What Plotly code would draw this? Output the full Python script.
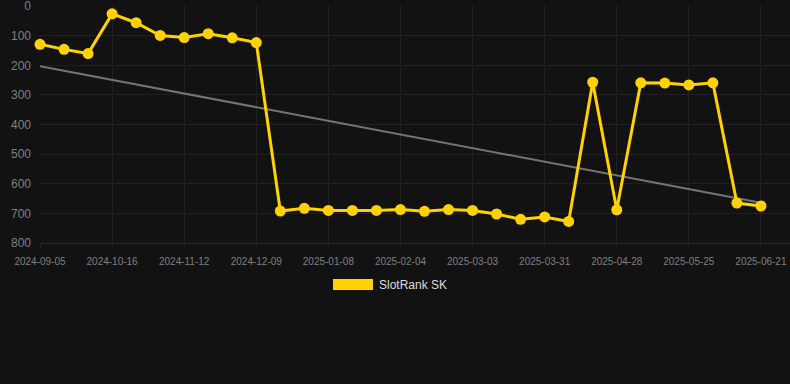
import numpy as np
import plotly.graph_objects as go

dates = ["2024-09-05", "2024-09-19", "2024-10-02", "2024-10-16", "2024-10-25", "2024-11-03",
         "2024-11-12", "2024-11-21", "2024-11-30", "2024-12-09", "2024-12-19", "2024-12-29",
         "2025-01-08", "2025-01-17", "2025-01-26", "2025-02-04", "2025-02-13", "2025-02-22",
         "2025-03-03", "2025-03-12", "2025-03-21", "2025-03-31", "2025-04-09", "2025-04-18",
         "2025-04-28", "2025-05-07", "2025-05-16", "2025-05-25", "2025-06-03", "2025-06-12",
         "2025-06-21"]
rank = [129, 146, 160, 26, 56, 99, 106, 93, 107, 123,
        692, 683, 690, 690, 690, 687, 693, 687, 690, 702,
        720, 712, 727, 257, 688, 259, 260, 266, 259, 665, 675]
y_ticks = [0, 100, 200, 300, 400, 500, 600, 700, 800]
series_name = "SlotRank SK"

idx = np.arange(len(rank))
slope, intercept = np.polyfit(idx, rank, 1)
trend = slope * idx + intercept

fig = go.Figure()
fig.add_trace(go.Scatter(x=dates, y=trend, mode="lines",
                         line=dict(color="rgba(150,150,150,0.75)", width=2),
                         hoverinfo="skip", showlegend=False))
fig.add_trace(go.Scatter(x=dates, y=rank, mode="lines+markers", name=series_name,
                         line=dict(color="#FFD200", width=3),
                         marker=dict(color="#FFD200", size=11),
                         cliponaxis=False, showlegend=False))

fig.update_layout(
    width=790, height=384,
    margin=dict(l=40, r=0, t=6, b=141),
    paper_bgcolor="#121212", plot_bgcolor="#121212",
    font=dict(family="Liberation Sans, Arial, sans-serif", color="#808080"),
    showlegend=False,
    xaxis=dict(type="category", range=[0, 31.21], tickmode="array",
               tickvals=dates[::3], ticktext=dates[::3],
               tickfont=dict(size=10, color="#808080"),
               showgrid=True, gridcolor="#202020", gridwidth=1,
               zeroline=False, showline=True, linecolor="#2a2a2a", linewidth=1,
               ticks="outside", ticklen=4, tickcolor="#202020",
               ticklabelstandoff=5, ticklabeloverflow="allow"),
    yaxis=dict(range=[800, -0.5], tickmode="array", tickvals=y_ticks,
               tickfont=dict(size=12, color="#808080"),
               showgrid=True, gridcolor="#202020", gridwidth=1,
               zeroline=False, showline=False, ticks="", ticklabelstandoff=8,
               ticklabeloverflow="allow"),
)

# legend drawn as a swatch and a label
fig.add_shape(type="rect", xref="paper", yref="paper",
              x0=(333 - 40) / 750, x1=(373 - 40) / 750,
              y0=(384 - 141 - 290) / 237, y1=(384 - 141 - 279) / 237,
              fillcolor="#FFD200", line=dict(width=0))
fig.add_annotation(xref="paper", yref="paper", x=(377 - 40) / 750,
                   y=(384 - 141 - 284.5) / 237, text=series_name, showarrow=False,
                   xanchor="left", yanchor="middle",
                   font=dict(size=12, color="#dddddd"))

fig.write_html("out.html", config={"displayModeBar": False},
               post_script="document.body.style.margin='0';document.body.style.background='#121212';")
